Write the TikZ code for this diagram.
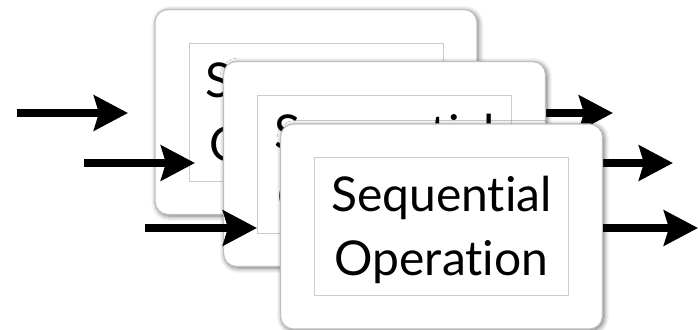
\documentclass[tikz,border=0pt]{standalone}
\usepackage{fontspec}
\setmainfont{Lato}[Ligatures=NoCommon]
\usetikzlibrary{shadows.blur,arrows.meta}
\begin{document}
\begin{tikzpicture}[x=1pt,y=-1pt,
  opbox/.style={draw=black!25,line width=1.2pt,fill=white,rounded corners=13pt,
    minimum width=322pt,minimum height=205pt,inner sep=0pt,
    blur shadow={shadow xshift=1.5pt,shadow yshift=-1.5pt,shadow blur radius=5pt,shadow opacity=60}},
  opinner/.style={draw=black!20,line width=0.8pt,minimum width=254pt,minimum height=138pt,
    inner sep=0pt},
  optext/.style={inner sep=0pt,align=center,font=\fontsize{48}{64}\selectfont},
  flow/.style={line width=7.5pt,-{Stealth[length=34pt,width=35pt,inset=5pt]}}]
\useasboundingbox (0,0) rectangle (698,329);

% back operation
\node[opbox] (b1) at (316,112) {};
\node[opinner] (i1) at (b1.center) {};
\node[optext] (t1) at ([yshift=-3.5pt]i1.center) {Sequential\\Operation};
\coordinate (in1a) at (17,113);   \coordinate (in1b) at (128,113);
\coordinate (out1) at (613,113);
\draw[flow] (in1a) -- (in1b);
\draw[flow] ([yshift=-1pt]b1.east) -- (out1);
\coordinate (in2a) at (84,163);   \coordinate (in2b) at (195,163);
\draw[flow] (in2a) -- (in2b);

% middle operation
\node[opbox] (b2) at (384.5,164) {};
\node[opinner] (i2) at (b2.center) {};
\node[optext] (t2) at ([yshift=-3.5pt]i2.center) {Sequential\\Operation};
\coordinate (out2) at (673,163);
\draw[flow] ([yshift=1pt]b2.east) -- (out2);
\coordinate (in3a) at (145,228);  \coordinate (in3b) at (257,228);
\draw[flow] (in3a) -- (in3b);

% front operation
\node[opbox] (b3) at (441.5,226.5) {};
\node[opinner] (i3) at (b3.center) {};
\node[optext] (t3) at ([yshift=-3.5pt]i3.center) {Sequential\\Operation};
\coordinate (out3) at (698,228);
\draw[flow] ([yshift=-1.5pt]b3.east) -- (out3);
\end{tikzpicture}
\end{document}
